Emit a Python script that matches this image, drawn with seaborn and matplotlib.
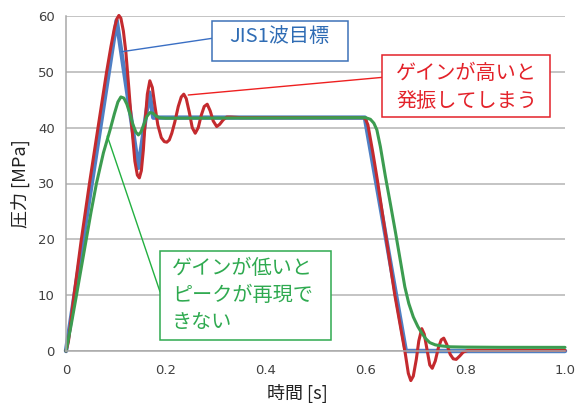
import numpy as np
import pandas as pd
import matplotlib
matplotlib.use("Agg")
import matplotlib.pyplot as plt
from matplotlib.patches import Rectangle
import seaborn as sns

# --- data -----------------------------------------------------------------
# JIS 1-wave target pressure profile (piecewise linear)
target_t = [0.0, 0.1015, 0.145, 0.167, 0.175, 0.599, 0.681, 1.0]
target_p = [0.0, 59.2, 32.8, 46.3, 41.8, 41.8, 0.0, 0.0]

# Response with high controller gain (oscillating)
high_t = [0.0, 0.005, 0.016, 0.030, 0.047, 0.065, 0.0814, 0.090, 0.097, 0.102,
          0.106, 0.110, 0.115, 0.120, 0.126, 0.132, 0.138, 0.143, 0.147, 0.151,
          0.155, 0.159, 0.163, 0.168, 0.173, 0.178, 0.184, 0.191, 0.197, 0.202,
          0.207, 0.212, 0.218, 0.225, 0.231, 0.236, 0.241, 0.247, 0.253, 0.259,
          0.265, 0.271, 0.277, 0.283, 0.289, 0.295, 0.302, 0.308, 0.315, 0.322,
          0.330, 0.350, 0.595, 0.600, 0.605, 0.615, 0.624, 0.636, 0.659, 0.672,
          0.680, 0.686, 0.691, 0.696, 0.702, 0.707, 0.713, 0.718, 0.724, 0.729,
          0.734, 0.740, 0.746, 0.752, 0.757, 0.763, 0.770, 0.776, 0.782, 0.789,
          0.796, 0.805, 1.0]
high_p = [0.0, 1.8, 10.0, 19.5, 30.0, 40.5, 50.0, 54.5, 57.8, 59.5,
          60.1, 59.6, 57.3, 53.5, 47.0, 40.0, 34.0, 31.5, 31.0, 32.3,
          36.0, 41.5, 46.0, 48.4, 47.2, 44.0, 40.5, 38.2, 37.5, 37.4,
          37.8, 39.0, 41.0, 43.8, 45.5, 46.0, 45.2, 42.8, 40.0, 39.0,
          40.0, 42.2, 43.8, 44.2, 43.0, 41.2, 40.2, 40.6, 41.4, 41.9,
          41.9, 41.8, 41.8, 41.6, 40.5, 35.5, 30.6, 23.5, 10.0, 3.5,
          -0.5, -4.0, -5.3, -4.5, -1.5, 1.8, 4.0, 3.0, 0.0, -2.5,
          -3.1, -1.8, 0.5, 2.0, 2.3, 1.2, -0.6, -1.4, -1.5, -0.9,
          -0.2, 0.1, 0.1]

# Response with low controller gain (peak not reached)
low_t = [0.0, 0.010, 0.020, 0.040, 0.050, 0.061, 0.075, 0.088, 0.097, 0.104,
         0.110, 0.116, 0.122, 0.128, 0.134, 0.140, 0.145, 0.150, 0.156, 0.162,
         0.168, 0.174, 0.180, 0.187, 0.200, 0.600, 0.610, 0.617, 0.623, 0.630,
         0.640, 0.650, 0.660, 0.670, 0.679, 0.687, 0.696, 0.705, 0.713, 0.721,
         0.729, 0.740, 0.753, 0.770, 0.800, 0.870, 1.0]
low_p = [0.0, 4.5, 9.5, 19.7, 24.8, 30.0, 35.5, 39.5, 42.5, 44.6,
         45.5, 45.3, 44.2, 42.5, 40.6, 39.2, 38.7, 39.2, 40.6, 42.0,
         42.7, 42.6, 42.1, 41.8, 41.7, 41.8, 41.5, 40.8, 39.6, 36.6,
         31.3, 26.4, 21.4, 16.2, 11.5, 8.5, 6.1, 4.4, 3.2, 2.2,
         1.5, 1.1, 0.9, 0.75, 0.7, 0.66, 0.65]

x_ticks = [0.0, 0.2, 0.4, 0.6, 0.8, 1.0]
x_tick_labels = ["0", "0.2", "0.4", "0.6", "0.8", "1.0"]
y_ticks = [0, 10, 20, 30, 40, 50, 60]

label_target = "JIS1波目標"
label_high = "ゲインが高いと\n発振してしまう"
label_low = "ゲインが低いと\nピークが再現で\nきない"

# --- styling --------------------------------------------------------------
sns.set_theme(style="white")
plt.rcParams["font.family"] = ["DejaVu Sans", "Noto Sans CJK JP"]
jp_font = ["Noto Sans CJK JP", "DejaVu Sans"]

c_target = "#4f7fc4"
c_high = "#c42a2e"
c_low = "#3c9c50"
axis_grey = "#a8a8a8"

fig = plt.figure(figsize=(5.82, 4.03), dpi=100)
ax = fig.add_axes([66 / 582, 52 / 403, 499 / 582, 335 / 403])

df_target = pd.DataFrame({"t": target_t, "p": target_p})
df_high = pd.DataFrame({"t": high_t, "p": high_p})
df_low = pd.DataFrame({"t": low_t, "p": low_p})

for df, col, lw in [(df_target, c_target, 3.2), (df_high, c_high, 2.2), (df_low, c_low, 2.2)]:
    sns.lineplot(data=df, x="t", y="p", ax=ax, color=col, linewidth=lw,
                 estimator=None, sort=False, legend=False)
for line in ax.get_lines():
    line.set_clip_on(False)
    line.set_solid_joinstyle("round")
    line.set_solid_capstyle("round")

ax.set_xlim(0, 1.0)
ax.set_ylim(0, 60)
ax.set_xticks(x_ticks)
ax.set_xticklabels(x_tick_labels)
ax.set_yticks(y_ticks)
ax.yaxis.grid(True, color="#b4b4b4", linewidth=1.1, zorder=0)
ax.xaxis.grid(False)
ax.set_axisbelow(True)
for side in ["top", "right"]:
    ax.spines[side].set_visible(False)
for side in ["left", "bottom"]:
    ax.spines[side].set_color(axis_grey)
    ax.spines[side].set_linewidth(1.1)
ax.tick_params(axis="both", colors=axis_grey, labelcolor="#404040",
               labelsize=9.5, length=4, width=1, direction="out", pad=4)
ax.tick_params(axis="x", pad=5)

ax.set_xlabel("時間 [s]", family=jp_font, fontsize=13, color="#202020")
ax.xaxis.set_label_coords(0.464, -0.098)
ax.set_ylabel("圧力 [MPa]", family=jp_font, fontsize=13, color="#202020")
ax.yaxis.set_label_coords(-0.072, 0.5)

# --- callouts -------------------------------------------------------------
def callout(x0, y0, w, h, edge, text, tx, ty, ha, tcolor, lead_from, lead_to, lead_color):
    ax.plot([lead_from[0], lead_to[0]], [lead_from[1], lead_to[1]],
            color=lead_color, linewidth=1.0, clip_on=False, zorder=5)
    ax.add_patch(Rectangle((x0, y0), w, h, facecolor="white", edgecolor=edge,
                           linewidth=1.1, clip_on=False, zorder=6))
    ax.text(tx, ty, text, ha=ha, va="center", color=tcolor, family=jp_font,
            fontsize=14.5, linespacing=1.38, zorder=7, clip_on=False)

callout(0.2926, 52.0, 0.2725, 7.16, "#3d72b8", label_target, 0.4269, 56.3, "center",
        "#2f6cb4", (0.1116, 53.6), (0.2926, 56.0), "#3a6fc4")
callout(0.6327, 41.86, 0.3373, 11.16, "#e3222a", label_high, 0.8026, 47.2, "center",
        "#e3222a", (0.245, 45.85), (0.6327, 49.0), "#ee2020")
callout(0.1884, 1.97, 0.3427, 16.0, "#2faa50", label_low, 0.2124, 10.0, "left",
        "#2faa50", (0.0828, 38.5), (0.1884, 10.6), "#22b040")

fig.savefig("out.png", dpi=100)
